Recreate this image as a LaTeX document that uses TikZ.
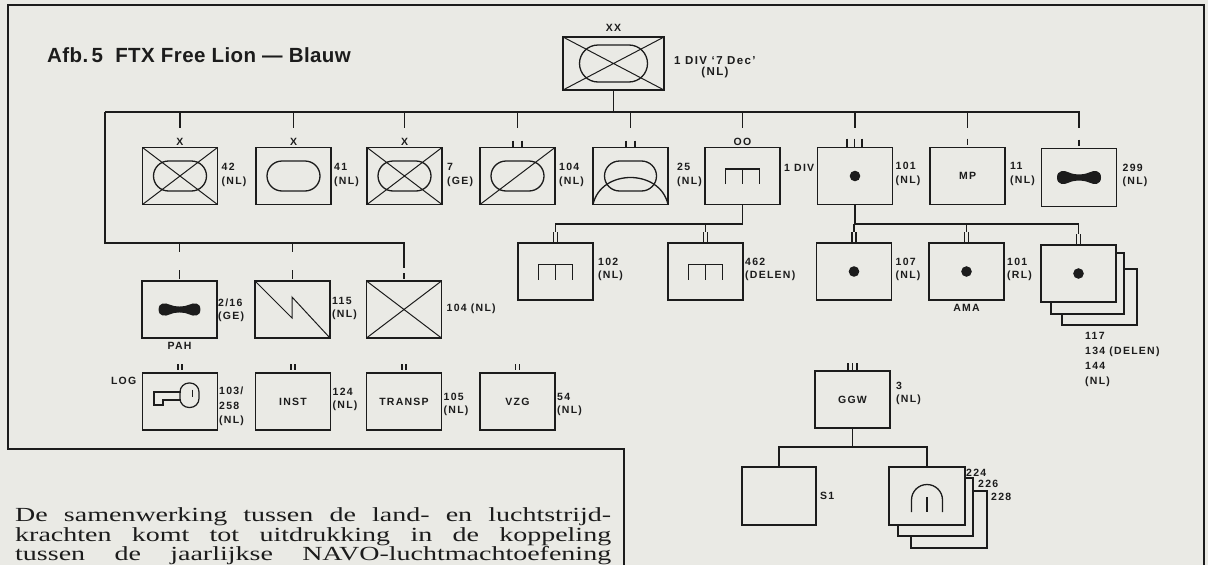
\documentclass[tikz,border=0pt]{standalone}
\usepackage{fontspec}
\usetikzlibrary{calc,shapes.misc}
\setmainfont{Liberation Serif}
\newfontfamily\labfont[LetterSpace=12]{Liberation Sans}
\newfontfamily\titlefont[LetterSpace=2]{Liberation Sans}
\newfontfamily\bodyfont[FakeStretch=1.4]{Liberation Serif}
\definecolor{ink}{RGB}{28,28,28}
\definecolor{paper}{RGB}{234,234,229}
\newcommand\tk[4]{\foreach \dx in {#2}{\draw[tickline] ($(#1.north)+(\dx,-#3)$) -- ($(#1.north)+(\dx,-#4)$);}}
\newcommand\crossbox[1]{\draw[diag] (#1.north west) -- (#1.south east) (#1.north east) -- (#1.south west);}
\tikzset{
  rotor/.pic={\fill[ink] (-22,0) .. controls (-22,-7.5) and (-15,-7.5) .. (-10,-5) .. controls (-5,-2.5) and (5,-2.5) .. (10,-5) .. controls (15,-7.5) and (22,-7.5) .. (22,0) .. controls (22,7.5) and (15,7.5) .. (10,5) .. controls (5,2.5) and (-5,2.5) .. (-10,5) .. controls (-15,7.5) and (-22,7.5) .. (-22,0) -- cycle;},
  engr/.pic={\draw[ink,line width=1.3pt] (-17,8) -- (-17,-7) -- (17,-7) -- (17,8) (0,-7) -- (0,8);}
}
\begin{document}
\begin{tikzpicture}[x=1pt,y=-1pt,
  box/.style={draw=ink, fill=paper, line width=1.4pt, minimum width=75pt, minimum height=57pt, inner sep=0pt, outer sep=0pt},
  bus/.style={draw=ink, line width=1.3pt},
  tickline/.style={draw=ink, line width=1.1pt},
  diag/.style={draw=ink, line width=1pt},
  oval/.style={draw=ink, line width=1.3pt, rounded rectangle, inner sep=0pt},
  lbl/.style={font=\labfont\bfseries\fontsize{10.5}{13.5}\selectfont, text=ink, align=left, anchor=west, inner sep=0pt},
  ech/.style={font=\labfont\bfseries\fontsize{10.5}{12}\selectfont, text=ink, inner sep=0pt},
  intext/.style={font=\labfont\bfseries\fontsize{10.5}{12}\selectfont, text=ink, inner sep=0pt},
  bodyline/.style={anchor=base west, inner sep=0pt, text=ink, font=\bodyfont\fontsize{20}{21}\selectfont}
]
\fill[paper] (0,0) rectangle (1208,565);
\useasboundingbox (0,0) rectangle (1208,565);
% frame
\draw[line width=1.5pt, ink] (624,565) -- (624,449) -- (8,449) -- (8,5) -- (1204,5) -- (1204,565);
% title
\node[anchor=base west, inner sep=0pt, text=ink, font=\titlefont\bfseries\fontsize{20.5}{22}\selectfont] (title) at (47,62) {Afb.\,5\ \ FTX Free Lion — Blauw};

% bus levels
\coordinate (yT) at (0,112);
\coordinate (yL) at (0,243);
\coordinate (yM) at (0,224);
\coordinate (yB) at (0,447);
\coordinate (busL) at (105,112);

% top
\node[box, minimum width=101pt, minimum height=53pt] (xx) at (613.5,63.5) {};
% row 1
\node[box] (b42) at (180,176) {};
\node[box] (b41) at (293.5,176) {};
\node[box] (b7) at (404.5,176) {};
\node[box] (b104) at (517.5,176) {};
\node[box] (b25) at (630.5,176) {};
\node[box] (boo) at (742.5,176) {};
\node[box] (b101) at (855,176) {};
\node[box] (bMP) at (967.5,176) {};
\node[box, minimum height=58pt] (b299) at (1079,177.5) {};
% row 2 left
\node[box] (pPAH) at (179.5,309.5) {};
\node[box] (p115) at (292.5,309.5) {};
\node[box] (p104) at (404,309.5) {};
% row 2 right
\node[box] (q102) at (555.5,271.5) {};
\node[box] (q462) at (705.5,271.5) {};
\node[box] (q107) at (854,271.5) {};
\node[box] (qAMA) at (966.5,271.5) {};
\draw[line width=1.3pt, ink, fill=paper] (1062,269) rectangle (1137,325);
\draw[line width=1.3pt, ink, fill=paper] (1051,253) rectangle (1124,314);
\node[box] (q117) at (1078.5,273.5) {};
% row 3
\node[box] (rLOG) at (180,401.5) {};
\node[box] (rINST) at (293,401.5) {};
\node[box] (rTR) at (404,401.5) {};
\node[box] (rVZG) at (517.5,401.5) {};
\node[box] (ggw) at (852.5,399.5) {};
% row 4
\node[box, minimum width=74pt, minimum height=58pt] (s1) at (779,496) {};
\draw[line width=1.3pt, ink, fill=paper] (911,491) rectangle (987,548);
\draw[line width=1.3pt, ink, fill=paper] (898,478) rectangle (973,536);
\node[box, minimum width=76pt, minimum height=58pt] (arch) at (927,496) {};

% connectors top bus
\draw[bus] (xx.south) -- (xx.south |- yT);
\draw[bus] (busL) -- (b299.north |- yT) -- ++(0,16);
\foreach \n in {b42,b41,b7,b104,b25,boo,b101,bMP}{\draw[bus] (\n.north |- yT) -- ++(0,16);}
% left bus
\draw[bus] (busL) |- (p104.north |- yL) -- ++(0,25);
\draw[bus] (pPAH.north |- yL) -- ++(0,9);
\draw[bus] (p115.north |- yL) -- ++(0,9);
% engineers bus
\draw[bus] (boo.south) -- (boo.south |- yM) -| ($(q102.north)+(0,-11)$);
\draw[bus] (q462.north |- yM) -- ++(0,8);
% artillery bus
\draw[bus] (b101.south) -- (b101.south |- yM) -| ($(q117.north)+(0,-11)$);
\draw[bus] (q107.north |- yM) -- ++(0,8);
\draw[bus] (qAMA.north |- yM) -- ++(0,8);
% bottom bus
\draw[bus] (ggw.south) -- (ggw.south |- yB);
\draw[bus] (s1.north) -- (s1.north |- yB) -| (arch.north);

% echelon markers
\node[ech] (eXX) at ($(xx.north)+(0,-9)$) {XX};
\node[ech] (e42) at ($(b42.north)+(0,-6)$) {X};
\node[ech] (e41) at ($(b41.north)+(0,-6)$) {X};
\node[ech] (e7) at ($(b7.north)+(0,-6)$) {X};
\node[ech] (eoo) at ($(boo.north)+(0,-6)$) {OO};
\tk{b104}{-4.5,4.5}{7}{0}
\tk{b25}{-4.5,4.5}{7}{0}
\tk{b101}{-8,-0.5,7}{9}{0}
\tk{bMP}{0}{9}{3}
\tk{b299}{0}{9}{3}
\tk{pPAH}{0}{11}{2}
\tk{p115}{0}{11}{2}
\tk{p104}{0}{8}{2}
\tk{q102}{-2,2}{11}{0}
\tk{q462}{-2,2}{11}{0}
\tk{q107}{-2,2}{11}{0}
\tk{qAMA}{-2,2}{11}{0}
\tk{q117}{-2,2}{11}{0}
\tk{rLOG}{-2,2}{9}{3}
\tk{rINST}{-2,2}{9}{3}
\tk{rTR}{-2,2}{9}{3}
\tk{rVZG}{-2,2}{9}{3}
\tk{ggw}{-4.5,0,4.5}{8}{0}

% symbols
\crossbox{xx}
\node[oval, minimum width=68pt, minimum height=37pt] (oxx) at (xx) {};
\crossbox{b42}
\node[oval, minimum width=53pt, minimum height=30pt] (o42) at (b42) {};
\node[oval, minimum width=53pt, minimum height=30pt] (o41) at (b41) {};
\crossbox{b7}
\node[oval, minimum width=53pt, minimum height=30pt] (o7) at (b7) {};
\node[oval, minimum width=53pt, minimum height=30pt] (o104) at (b104) {};
\draw[diag] (b104.south west) -- (b104.north east);
\node[oval, minimum width=52pt, minimum height=30pt] (o25) at (b25) {};
\draw[line width=1.3pt, ink] (b25.south west) .. controls ($(b25.south west)+(8,-36)$) and ($(b25.south east)+(-8,-36)$) .. (b25.south east);
\pic at (boo) {engr};
\fill[ink] (b101) circle (5.3pt);
\node[intext] (tMP) at (bMP) {MP};
\pic at (b299) {rotor};
\pic[scale=0.95] at (pPAH) {rotor};
\draw[diag] (p115.north west) -- ++(37,37) -- ++(0,-21) -- (p115.south east);
\crossbox{p104}
\pic at (q102) {engr};
\pic at (q462) {engr};
\fill[ink] (q107) circle (5.3pt);
\fill[ink] (qAMA) circle (5.3pt);
\fill[ink] (q117) circle (5.3pt);
\begin{scope}[shift={(rLOG)}]
  \draw[line width=1.2pt, ink] (1,-9.5) -- (-26,-9.5) -- (-26,3.5) -- (-17,3.5) -- (-17,-1.5) -- (1,-1.5);
  \draw[line width=1.2pt, ink, rounded corners=9pt] (0,-18.5) rectangle (19,6);
  \draw[line width=1.2pt, ink] (12.5,-12) -- (12.5,-5);
\end{scope}
\node[intext] (tINST) at (rINST) {INST};
\node[intext] (tTR) at (rTR) {TRANSP};
\node[intext] (tVZG) at (rVZG) {VZG};
\node[intext] (tGGW) at (ggw) {GGW};
\begin{scope}[shift={(arch)}]
  \draw[line width=1.3pt, ink] (-15.5,16) -- (-15.5,4) arc[start angle=180, end angle=360, radius=15.5] -- (15.5,16);
  \draw[line width=1.3pt, ink] (0,1) -- (0,16);
\end{scope}

% labels
\node[lbl, align=center, font=\labfont\bfseries\fontsize{11.5}{11}\selectfont] (lxx) at ($(xx.east)+(10,3.5)$) {1 DIV ‘7 Dec’\\(NL)};
\node[lbl] (l42) at ($(b42.east)+(4,-1)$) {42\\(NL)};
\node[lbl] (l41) at ($(b41.east)+(3,-1)$) {41\\(NL)};
\node[lbl] (l7) at ($(b7.east)+(5,-1)$) {7\\(GE)};
\node[lbl] (l104) at ($(b104.east)+(4,-1)$) {104\\(NL)};
\node[lbl] (l25) at ($(b25.east)+(9,-1)$) {25\\(NL)};
\node[lbl] (loo) at ($(boo.east)+(4,-8)$) {1 DIV};
\node[lbl] (l101) at ($(b101.east)+(3,-2)$) {101\\(NL)};
\node[lbl] (lMP) at ($(bMP.east)+(5,-2)$) {11\\(NL)};
\node[lbl] (l299) at ($(b299.east)+(6,-2)$) {299\\(NL)};
\node[lbl] (lPAH) at ($(pPAH.east)+(1,1)$) {2/16\\(GE)};
\node[ech] (nPAH) at ($(pPAH.south)+(0,8)$) {PAH};
\node[lbl] (l115) at ($(p115.east)+(2,-1)$) {115\\(NL)};
\node[lbl] (l104b) at ($(p104.east)+(5,-1)$) {104 (NL)};
\node[lbl] (l102) at ($(q102.east)+(5,-2)$) {102\\(NL)};
\node[lbl] (l462) at ($(q462.east)+(2,-2)$) {462\\(DELEN)};
\node[lbl] (l107) at ($(q107.east)+(4,-2)$) {107\\(NL)};
\node[lbl] (lAMA) at ($(qAMA.east)+(3,-2)$) {101\\(RL)};
\node[ech] (nAMA) at ($(qAMA.south)+(0,8)$) {AMA};
\node[lbl, anchor=north west, font=\labfont\bfseries\fontsize{10.5}{15}\selectfont] (l117) at (1085,332) {117\\134 (DELEN)\\144\\(NL)};
\node[ech, anchor=east] (nLOG) at ($(rLOG.north west)+(-6,8)$) {LOG};
\node[lbl, anchor=north west, font=\labfont\bfseries\fontsize{10.5}{14.5}\selectfont] (lLOG) at (219,387) {103/\\258\\(NL)};
\node[lbl] (lINST) at ($(rINST.east)+(2,-2)$) {124\\(NL)};
\node[lbl] (lTR) at ($(rTR.east)+(2,3)$) {105\\(NL)};
\node[lbl] (lVZG) at ($(rVZG.east)+(2,3)$) {54\\(NL)};
\node[lbl] (lGGW) at ($(ggw.east)+(6,-6)$) {3\\(NL)};
\node[lbl] (lS1) at ($(s1.east)+(4,0)$) {S1};
\node[lbl] (l224) at (966,473) {224};
\node[lbl] (l226) at (978,484) {226};
\node[lbl] (l228) at (991,497) {228};

% body text
\node[bodyline] (body1) at (15,521) {\makebox[596pt][s]{De samenwerking tussen de land- en luchtstrijd-}};
\node[bodyline] (body2) at (15,541) {\makebox[596pt][s]{krachten komt tot uitdrukking in de koppeling}};
\node[bodyline] (body3) at (15,560.5) {\makebox[596pt][s]{tussen de jaarlijkse NAVO-luchtmachtoefening}};
\end{tikzpicture}
\end{document}
